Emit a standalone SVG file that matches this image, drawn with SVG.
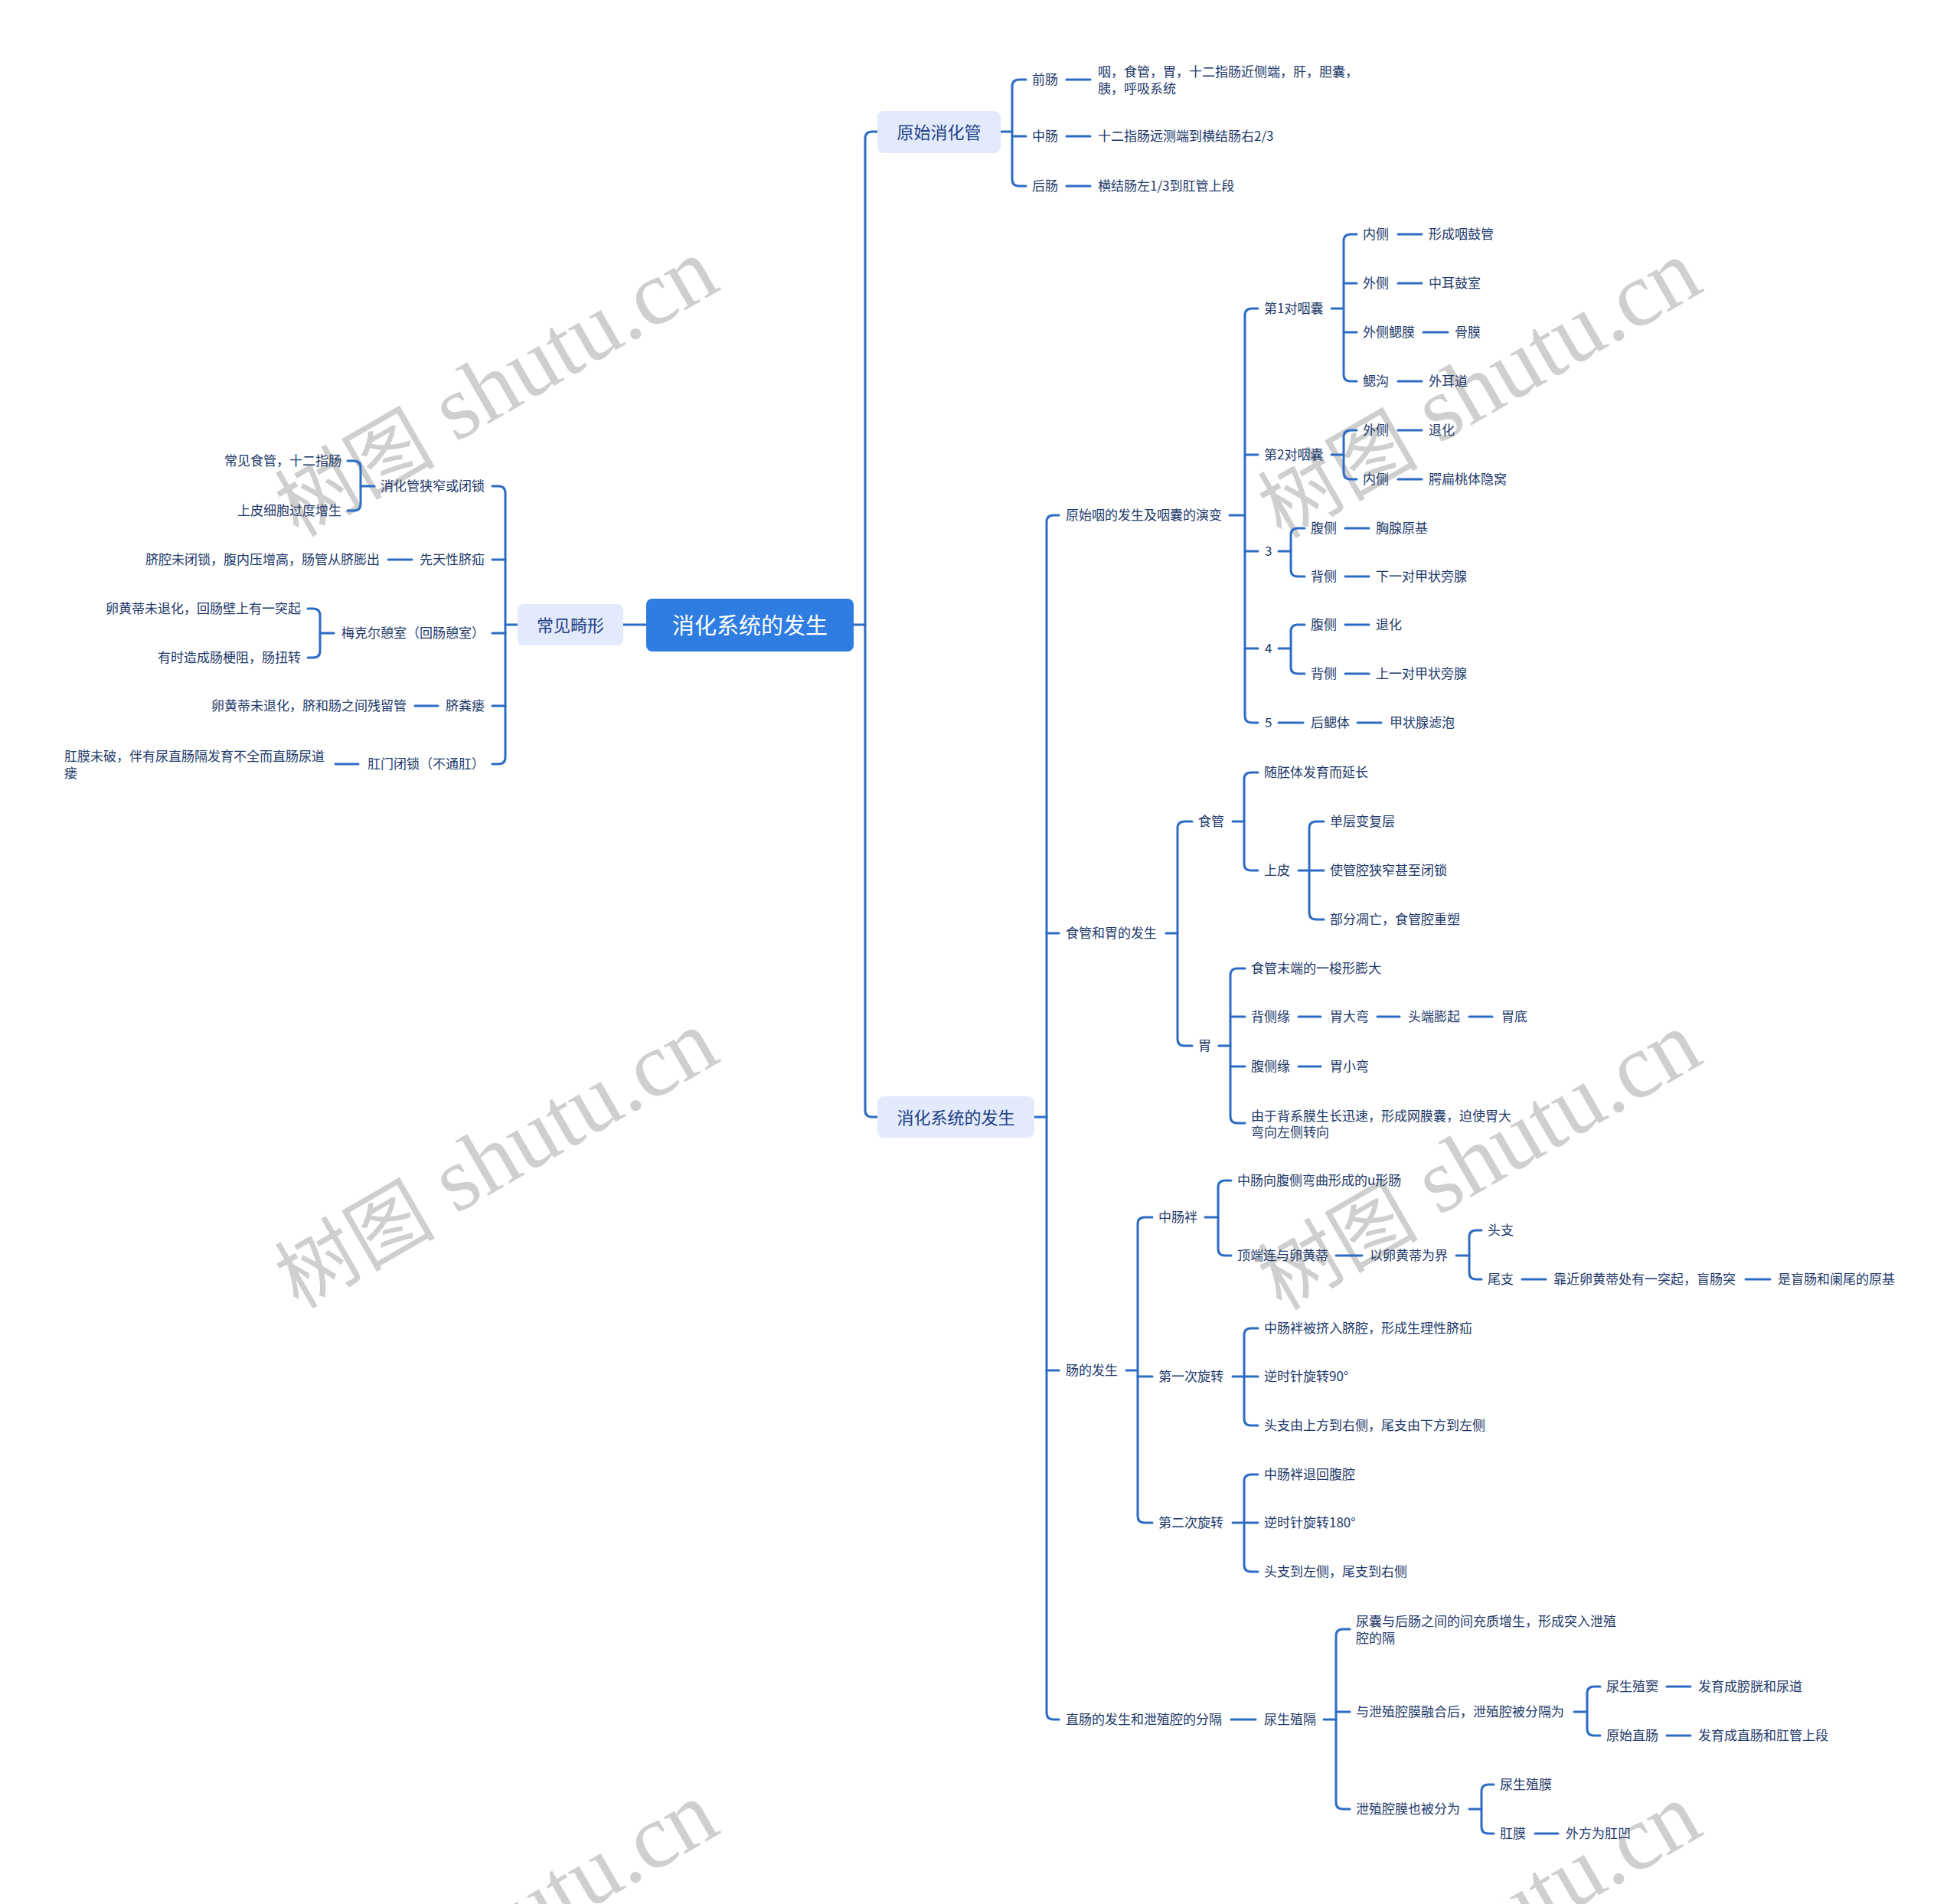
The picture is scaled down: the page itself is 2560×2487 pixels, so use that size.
<svg xmlns="http://www.w3.org/2000/svg" width="2560" height="2487" viewBox="0 0 2560 2487">
<style>
.t{font-family:"Noto Sans CJK SC","Noto Sans",sans-serif;font-size:17px;fill:#22396a;dominant-baseline:central}
.e{text-anchor:end}
.l{fill:none;stroke:#2d6cc4;stroke-width:3;stroke-linecap:round;stroke-linejoin:round}
.b1{fill:#e3eafb}
.t1{font-family:"Noto Sans CJK SC","Noto Sans",sans-serif;font-size:22px;fill:#1c4187;text-anchor:middle;dominant-baseline:central}
.wm{fill:#cfcfcf;text-anchor:middle;dominant-baseline:central}
.wc{font-family:"Noto Sans CJK SC",sans-serif;font-size:105px}
.ws{font-family:"Liberation Serif",serif;font-size:120px}
</style>
<rect width="2560" height="2487" fill="#ffffff"/>
<g id="watermarks">
<text class="wm" transform="translate(645,502) rotate(-30)"><tspan class="wc">树图</tspan><tspan class="ws" dx="30">shutu.cn</tspan></text>
<text class="wm" transform="translate(645,1510) rotate(-30)"><tspan class="wc">树图</tspan><tspan class="ws" dx="30">shutu.cn</tspan></text>
<text class="wm" transform="translate(645,2518) rotate(-30)"><tspan class="wc">树图</tspan><tspan class="ws" dx="30">shutu.cn</tspan></text>
<text class="wm" transform="translate(1929,504) rotate(-30)"><tspan class="wc">树图</tspan><tspan class="ws" dx="30">shutu.cn</tspan></text>
<text class="wm" transform="translate(1929,1512) rotate(-30)"><tspan class="wc">树图</tspan><tspan class="ws" dx="30">shutu.cn</tspan></text>
<text class="wm" transform="translate(1929,2520) rotate(-30)"><tspan class="wc">树图</tspan><tspan class="ws" dx="30">shutu.cn</tspan></text>
</g>
<g id="connectors" class="l">
<path d="M1146 172 H1139 Q1130 172 1130 181 V1450 Q1130 1459 1139 1459 H1146"/>
<path d="M1115 816 H1130"/>
<path d="M844 816 H814"/>
<path d="M676 816 H660"/>
<path d="M643 635 H651 Q660 635 660 644 V989 Q660 998 651 998 H643"/>
<path d="M660 731 H643 M660 827 H643 M660 922 H643"/>
<path d="M489 635 H471"/>
<path d="M454 602 H462 Q471 602 471 611 V658 Q471 667 462 667 H454"/>
<path d="M507 731 H538"/>
<path d="M436 827 H418"/>
<path d="M402 795 H409 Q418 795 418 804 V850 Q418 859 409 859 H402"/>
<path d="M542 922 H572"/>
<path d="M438 998 H468"/>
<path d="M1307 172 H1322"/>
<path d="M1340 104 H1331 Q1322 104 1322 113 V234 Q1322 243 1331 243 H1340"/>
<path d="M1322 178 H1340"/>
<path d="M1393 104 H1424 M1393 178 H1424 M1393 243 H1424"/>
<path d="M1351 1459 H1367"/>
<path d="M1383 673 H1376 Q1367 673 1367 682 V2237 Q1367 2246 1376 2246 H1383"/>
<path d="M1367 1219 H1383 M1367 1790 H1383"/>
<path d="M1606 673 H1626"/>
<path d="M1643 403 H1635 Q1626 403 1626 412 V935 Q1626 944 1635 944 H1643"/>
<path d="M1626 594 H1643 M1626 720 H1643 M1626 847 H1643"/>
<path d="M1739 403 H1755"/>
<path d="M1772 306 H1764 Q1755 306 1755 315 V489 Q1755 498 1764 498 H1772"/>
<path d="M1755 370 H1772 M1755 434 H1772"/>
<path d="M1826 306 H1857 M1826 370 H1857 M1859 434 H1891 M1826 498 H1857"/>
<path d="M1739 594 H1755"/>
<path d="M1772 562 H1764 Q1755 562 1755 571 V617 Q1755 626 1764 626 H1772"/>
<path d="M1826 562 H1857 M1826 626 H1857"/>
<path d="M1670 720 H1686"/>
<path d="M1704 690 H1695 Q1686 690 1686 699 V744 Q1686 753 1695 753 H1704"/>
<path d="M1757 690 H1788 M1757 753 H1788"/>
<path d="M1670 847 H1686"/>
<path d="M1704 816 H1695 Q1686 816 1686 825 V871 Q1686 880 1695 880 H1704"/>
<path d="M1757 816 H1788 M1757 880 H1788"/>
<path d="M1670 944 H1702 M1773 944 H1804"/>
<path d="M1523 1219 H1538"/>
<path d="M1557 1073 H1547 Q1538 1073 1538 1082 V1357 Q1538 1366 1547 1366 H1557"/>
<path d="M1610 1073 H1625"/>
<path d="M1643 1009 H1634 Q1625 1009 1625 1018 V1128 Q1625 1137 1634 1137 H1643"/>
<path d="M1696 1137 H1729"/>
<path d="M1729 1073 H1719 Q1710 1073 1710 1082 V1192 Q1710 1201 1719 1201 H1729"/>
<path d="M1592 1366 H1607"/>
<path d="M1626 1265 H1616 Q1607 1265 1607 1274 V1458 Q1607 1467 1616 1467 H1626"/>
<path d="M1607 1328 H1626 M1607 1393 H1626"/>
<path d="M1696 1328 H1725 M1799 1328 H1828 M1919 1328 H1949 M1696 1393 H1725"/>
<path d="M1471 1790 H1486"/>
<path d="M1505 1590 H1495 Q1486 1590 1486 1599 V1980 Q1486 1989 1495 1989 H1505"/>
<path d="M1486 1798 H1505"/>
<path d="M1574 1590 H1591"/>
<path d="M1608 1542 H1600 Q1591 1542 1591 1551 V1631 Q1591 1640 1600 1640 H1608"/>
<path d="M1745 1640 H1779 M1902 1640 H1919"/>
<path d="M1935 1607 H1928 Q1919 1607 1919 1616 V1662 Q1919 1671 1928 1671 H1935"/>
<path d="M1988 1671 H2019 M2280 1671 H2312"/>
<path d="M1610 1798 H1625"/>
<path d="M1643 1735 H1634 Q1625 1735 1625 1744 V1853 Q1625 1862 1634 1862 H1643"/>
<path d="M1625 1798 H1643"/>
<path d="M1610 1989 H1625"/>
<path d="M1643 1926 H1634 Q1625 1926 1625 1935 V2044 Q1625 2053 1634 2053 H1643"/>
<path d="M1625 1989 H1643"/>
<path d="M1608 2246 H1640 M1729 2246 H1745"/>
<path d="M1763 2128 H1754 Q1745 2128 1745 2137 V2354 Q1745 2363 1754 2363 H1763"/>
<path d="M1745 2236 H1763"/>
<path d="M2056 2236 H2073"/>
<path d="M2090 2203 H2082 Q2073 2203 2073 2212 V2258 Q2073 2267 2082 2267 H2090"/>
<path d="M2177 2203 H2208 M2177 2267 H2208"/>
<path d="M1919 2363 H1935"/>
<path d="M1951 2331 H1944 Q1935 2331 1935 2340 V2386 Q1935 2395 1944 2395 H1951"/>
<path d="M2005 2395 H2035"/>
</g>
<g id="root"><rect x="844" y="782" width="271" height="69" rx="8" fill="#2f7de1"/><text x="979.5" y="814.5" style="font-family:'Noto Sans CJK SC',sans-serif;font-size:29px;fill:#ffffff;text-anchor:middle;dominant-baseline:central">消化系统的发生</text></g>
<g id="n-yuanshi"><rect class="b1" x="1146" y="145" width="161" height="55" rx="8"/><text class="t1" x="1226.5" y="171">原始消化管</text></g>
<g id="n-xiaohua"><rect class="b1" x="1146" y="1432" width="205" height="54" rx="8"/><text class="t1" x="1248.5" y="1457.5">消化系统的发生</text></g>
<g id="n-jixing"><rect class="b1" x="676" y="789" width="138" height="54" rx="8"/><text class="t1" x="745" y="814.5">常见畸形</text></g>
<g id="nodes-text" transform="translate(0,-1.5)">
<g id="n-qianchang"><text class="t" x="1348" y="104">前肠</text></g>
<g id="n-qianchang-d"><text class="t"><tspan x="1434" y="93">咽，食管，胃，十二指肠近侧端，肝，胆囊，</tspan><tspan x="1434" y="115">胰，呼吸系统</tspan></text></g>
<g id="n-zhongchang"><text class="t" x="1348" y="178">中肠</text></g>
<g id="n-zhongchang-d"><text class="t" x="1434" y="178">十二指肠远测端到横结肠右2/3</text></g>
<g id="n-houchang"><text class="t" x="1348" y="243">后肠</text></g>
<g id="n-houchang-d"><text class="t" x="1434" y="243">横结肠左1/3到肛管上段</text></g>
<g id="n-yan"><text class="t" x="1392" y="673">原始咽的发生及咽囊的演变</text></g>
<g id="n-p1"><text class="t" x="1651" y="403">第1对咽囊</text></g>
<g id="n-p1a"><text class="t" x="1780" y="306">内侧</text></g>
<g id="n-p1a1"><text class="t" x="1866" y="306">形成咽鼓管</text></g>
<g id="n-p1b"><text class="t" x="1780" y="370">外侧</text></g>
<g id="n-p1b1"><text class="t" x="1866" y="370">中耳鼓室</text></g>
<g id="n-p1c"><text class="t" x="1780" y="434">外侧鳃膜</text></g>
<g id="n-p1c1"><text class="t" x="1900" y="434">骨膜</text></g>
<g id="n-p1d"><text class="t" x="1780" y="498">鳃沟</text></g>
<g id="n-p1d1"><text class="t" x="1866" y="498">外耳道</text></g>
<g id="n-p2"><text class="t" x="1651" y="594">第2对咽囊</text></g>
<g id="n-p2a"><text class="t" x="1780" y="562">外侧</text></g>
<g id="n-p2a1"><text class="t" x="1866" y="562">退化</text></g>
<g id="n-p2b"><text class="t" x="1780" y="626">内侧</text></g>
<g id="n-p2b1"><text class="t" x="1866" y="626">腭扁桃体隐窝</text></g>
<g id="n-p3"><text class="t" x="1652" y="720">3</text></g>
<g id="n-p3a"><text class="t" x="1712" y="690">腹侧</text></g>
<g id="n-p3a1"><text class="t" x="1797" y="690">胸腺原基</text></g>
<g id="n-p3b"><text class="t" x="1712" y="753">背侧</text></g>
<g id="n-p3b1"><text class="t" x="1797" y="753">下一对甲状旁腺</text></g>
<g id="n-p4"><text class="t" x="1652" y="847">4</text></g>
<g id="n-p4a"><text class="t" x="1712" y="816">腹侧</text></g>
<g id="n-p4a1"><text class="t" x="1797" y="816">退化</text></g>
<g id="n-p4b"><text class="t" x="1712" y="880">背侧</text></g>
<g id="n-p4b1"><text class="t" x="1797" y="880">上一对甲状旁腺</text></g>
<g id="n-p5"><text class="t" x="1652" y="944">5</text></g>
<g id="n-p5a"><text class="t" x="1712" y="944">后鳃体</text></g>
<g id="n-p5a1"><text class="t" x="1815" y="944">甲状腺滤泡</text></g>
<g id="n-sg"><text class="t" x="1392" y="1219">食管和胃的发生</text></g>
<g id="n-sg1"><text class="t" x="1565" y="1073">食管</text></g>
<g id="n-sg1a"><text class="t" x="1651" y="1009">随胚体发育而延长</text></g>
<g id="n-sg1b"><text class="t" x="1651" y="1137">上皮</text></g>
<g id="n-sg1b1"><text class="t" x="1737" y="1073">单层变复层</text></g>
<g id="n-sg1b2"><text class="t" x="1737" y="1137">使管腔狭窄甚至闭锁</text></g>
<g id="n-sg1b3"><text class="t" x="1737" y="1201">部分凋亡，食管腔重塑</text></g>
<g id="n-sg2"><text class="t" x="1565" y="1366">胃</text></g>
<g id="n-sg2a"><text class="t" x="1634" y="1265">食管末端的一梭形膨大</text></g>
<g id="n-sg2b"><text class="t" x="1634" y="1328">背侧缘</text></g>
<g id="n-sg2b1"><text class="t" x="1737" y="1328">胃大弯</text></g>
<g id="n-sg2b2"><text class="t" x="1839" y="1328">头端膨起</text></g>
<g id="n-sg2b3"><text class="t" x="1961" y="1328">胃底</text></g>
<g id="n-sg2c"><text class="t" x="1634" y="1393">腹侧缘</text></g>
<g id="n-sg2c1"><text class="t" x="1737" y="1393">胃小弯</text></g>
<g id="n-sg2d"><text class="t"><tspan x="1634" y="1457">由于背系膜生长迅速，形成网膜囊，迫使胃大</tspan><tspan x="1634" y="1478">弯向左侧转向</tspan></text></g>
<g id="n-c"><text class="t" x="1392" y="1790">肠的发生</text></g>
<g id="n-c1"><text class="t" x="1513" y="1590">中肠袢</text></g>
<g id="n-c1a"><text class="t" x="1616" y="1542">中肠向腹侧弯曲形成的u形肠</text></g>
<g id="n-c1b"><text class="t" x="1616" y="1640">顶端连与卵黄蒂</text></g>
<g id="n-c1b1"><text class="t" x="1789" y="1640">以卵黄蒂为界</text></g>
<g id="n-c1b1a"><text class="t" x="1943" y="1607">头支</text></g>
<g id="n-c1b1b"><text class="t" x="1943" y="1671">尾支</text></g>
<g id="n-c1b1b1"><text class="t" x="2029" y="1671">靠近卵黄蒂处有一突起，盲肠突</text></g>
<g id="n-c1b1b2"><text class="t" x="2322" y="1671">是盲肠和阑尾的原基</text></g>
<g id="n-c2"><text class="t" x="1513" y="1798">第一次旋转</text></g>
<g id="n-c2a"><text class="t" x="1651" y="1735">中肠袢被挤入脐腔，形成生理性脐疝</text></g>
<g id="n-c2b"><text class="t" x="1651" y="1798">逆时针旋转90°</text></g>
<g id="n-c2c"><text class="t" x="1651" y="1862">头支由上方到右侧，尾支由下方到左侧</text></g>
<g id="n-c3"><text class="t" x="1513" y="1989">第二次旋转</text></g>
<g id="n-c3a"><text class="t" x="1651" y="1926">中肠袢退回腹腔</text></g>
<g id="n-c3b"><text class="t" x="1651" y="1989">逆时针旋转180°</text></g>
<g id="n-c3c"><text class="t" x="1651" y="2053">头支到左侧，尾支到右侧</text></g>
<g id="n-r"><text class="t" x="1392" y="2246">直肠的发生和泄殖腔的分隔</text></g>
<g id="n-r1"><text class="t" x="1651" y="2246">尿生殖隔</text></g>
<g id="n-r1a"><text class="t"><tspan x="1771" y="2117">尿囊与后肠之间的间充质增生，形成突入泄殖</tspan><tspan x="1771" y="2139">腔的隔</tspan></text></g>
<g id="n-r1b"><text class="t" x="1771" y="2236">与泄殖腔膜融合后，泄殖腔被分隔为</text></g>
<g id="n-r1b1"><text class="t" x="2098" y="2203">尿生殖窦</text></g>
<g id="n-r1b1a"><text class="t" x="2218" y="2203">发育成膀胱和尿道</text></g>
<g id="n-r1b2"><text class="t" x="2098" y="2267">原始直肠</text></g>
<g id="n-r1b2a"><text class="t" x="2218" y="2267">发育成直肠和肛管上段</text></g>
<g id="n-r1c"><text class="t" x="1771" y="2363">泄殖腔膜也被分为</text></g>
<g id="n-r1c1"><text class="t" x="1959" y="2331">尿生殖膜</text></g>
<g id="n-r1c2"><text class="t" x="1959" y="2395">肛膜</text></g>
<g id="n-r1c2a"><text class="t" x="2045" y="2395">外方为肛凹</text></g>
<g id="n-m1"><text class="t e" x="633" y="635">消化管狭窄或闭锁</text></g>
<g id="n-m1a"><text class="t e" x="446" y="602">常见食管，十二指肠</text></g>
<g id="n-m1b"><text class="t e" x="446" y="667">上皮细胞过度增生</text></g>
<g id="n-m2"><text class="t e" x="633" y="731">先天性脐疝</text></g>
<g id="n-m2a"><text class="t e" x="496" y="731">脐腔未闭锁，腹内压增高，肠管从脐膨出</text></g>
<g id="n-m3"><text class="t e" x="633" y="827">梅克尔憩室（回肠憩室）</text></g>
<g id="n-m3a"><text class="t e" x="393" y="795">卵黄蒂未退化，回肠壁上有一突起</text></g>
<g id="n-m3b"><text class="t e" x="393" y="859">有时造成肠梗阻，肠扭转</text></g>
<g id="n-m4"><text class="t e" x="633" y="922">脐粪瘘</text></g>
<g id="n-m4a"><text class="t e" x="531" y="922">卵黄蒂未退化，脐和肠之间残留管</text></g>
<g id="n-m5"><text class="t e" x="633" y="998">肛门闭锁（不通肛）</text></g>
<g id="n-m5a"><text class="t"><tspan x="84" y="987">肛膜未破，伴有尿直肠隔发育不全而直肠尿道</tspan><tspan x="84" y="1009">瘘</tspan></text></g>
</g>
</svg>
